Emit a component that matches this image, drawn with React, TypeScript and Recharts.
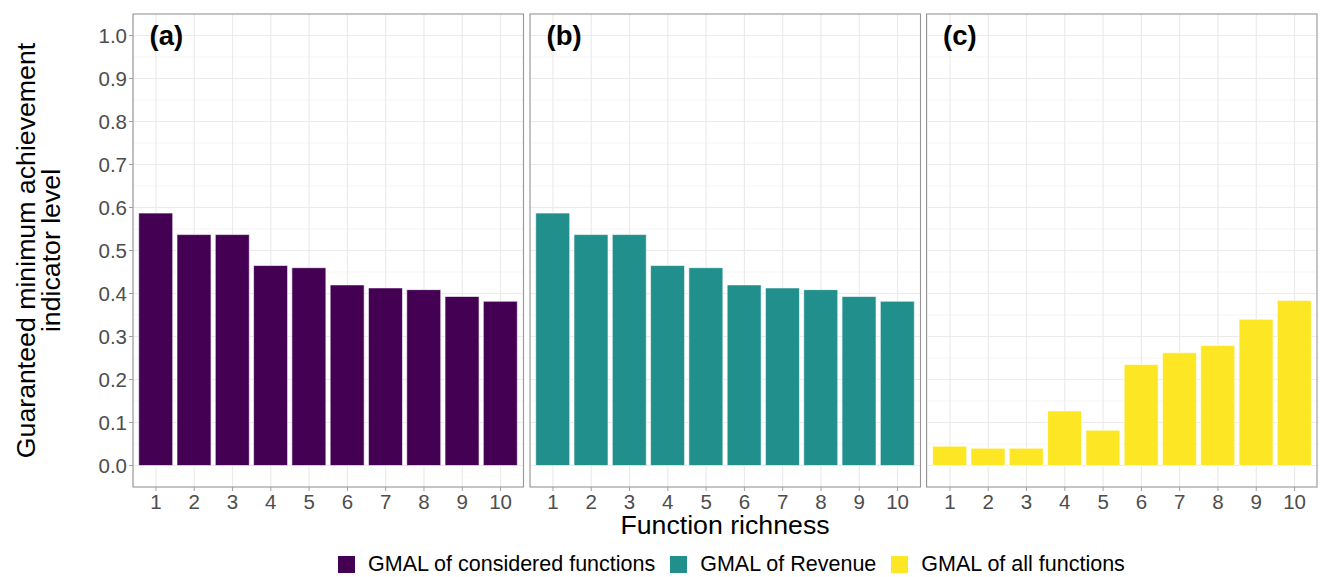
import React from 'react';
import { BarChart, Bar, XAxis, YAxis, CartesianGrid } from 'recharts';

const categories = ['1', '2', '3', '4', '5', '6', '7', '8', '9', '10'];
const consideredValues = [0.587, 0.537, 0.537, 0.465, 0.46, 0.42, 0.413, 0.409, 0.393, 0.382];
const revenueValues = [0.587, 0.537, 0.537, 0.465, 0.46, 0.42, 0.413, 0.409, 0.393, 0.382];
const allValues = [0.045, 0.04, 0.04, 0.127, 0.082, 0.235, 0.262, 0.279, 0.34, 0.384];
const yTicks = [0, 0.1, 0.2, 0.3, 0.4, 0.5, 0.6, 0.7, 0.8, 0.9, 1.0];
const yMinorTicks = [0.05, 0.15, 0.25, 0.35, 0.45, 0.55, 0.65, 0.75, 0.85, 0.95];
const seriesNames = ['GMAL of considered functions', 'GMAL of Revenue', 'GMAL of all functions'];
const seriesKeys = ['considered', 'revenue', 'all'];
const seriesColors = ['#440154', '#21908C', '#FDE725'];
const panelLabels = ['(a)', '(b)', '(c)'];
const xTitle = 'Function richness';
const yTitleLines = ['Guaranteed minimum achievement', 'indicator level'];

const rows = categories.map((c, i) => ({
  cat: c,
  considered: consideredValues[i],
  revenue: revenueValues[i],
  all: allValues[i],
}));

const FONT = '"Liberation Sans", Arial, Helvetica, sans-serif';
const PANEL_LEFTS = [133, 530, 926.5];
const PW = 390.5;
const TOP = 14;
const BOTTOM = 487;
const CH = 520;

function Panel({ idx }: { idx: number }) {
  const left = PANEL_LEFTS[idx];
  const showY = idx === 0;
  const chartLeft = showY ? 0 : left;
  const width = showY ? left + PW : PW;
  return (
    <div style={{ position: 'absolute', left: chartLeft, top: 0 }}>
      <BarChart
        width={width}
        height={CH}
        data={rows}
        margin={{ top: TOP, right: 0, bottom: 0, left: 0 }}
        barCategoryGap="5%"
      >
        <CartesianGrid
          horizontalValues={yMinorTicks}
          vertical={false}
          stroke="#f3f3f3"
          strokeWidth={0.8}
        />
        <CartesianGrid horizontalValues={yTicks} stroke="#ebebeb" strokeWidth={1.2} />
        <XAxis
          dataKey="cat"
          type="category"
          interval={0}
          padding={{ left: 3.8, right: 3.8 }}
          axisLine={false}
          tickLine={{ stroke: '#a0a0a0' }}
          tickSize={4}
          tickMargin={3}
          height={CH - BOTTOM}
          tick={{ fill: '#4d4d4d', fontSize: 20.5, fontFamily: FONT }}
        />
        <YAxis
          type="number"
          domain={[-0.05, 1.05]}
          allowDataOverflow
          ticks={yTicks}
          interval={0}
          hide={!showY}
          width={left}
          axisLine={false}
          tickLine={{ stroke: '#a0a0a0' }}
          tickSize={4}
          tickMargin={2}
          tickFormatter={(v: number) => v.toFixed(1)}
          tick={{ fill: '#4d4d4d', fontSize: 20.5, fontFamily: FONT }}
        />
        <Bar
          dataKey={seriesKeys[idx]}
          fill={seriesColors[idx]}
          stroke="#ffffff"
          strokeWidth={0.6}
          isAnimationActive={false}
        />
      </BarChart>
    </div>
  );
}

export default function App() {
  return (
    <div
      style={{
        position: 'absolute',
        left: 0,
        top: 0,
        width: 1322,
        height: 577,
        background: '#ffffff',
        fontFamily: FONT,
        overflow: 'hidden',
      }}
    >
      {[0, 1, 2].map((i) => (
        <Panel key={i} idx={i} />
      ))}
      <svg
        width={1322}
        height={577}
        style={{ position: 'absolute', left: 0, top: 0, pointerEvents: 'none' }}
      >
        {PANEL_LEFTS.map((l, i) => (
          <g key={i}>
            <rect
              x={l}
              y={TOP}
              width={PW}
              height={BOTTOM - TOP}
              fill="none"
              stroke="#969696"
              strokeWidth={1.1}
            />
            <text
              x={l + 16.5}
              y={44.5}
              fontFamily={FONT}
              fontWeight="bold"
              fontSize={27.5}
              fill="#000"
            >
              {panelLabels[i]}
            </text>
          </g>
        ))}
        <text
          x={725}
          y={534}
          textAnchor="middle"
          fontFamily={FONT}
          fontSize={26.7}
          fill="#000"
        >
          {xTitle}
        </text>
        <text
          transform={`translate(35, 250.5) rotate(-90)`}
          textAnchor="middle"
          fontFamily={FONT}
          fontSize={26.7}
          fill="#000"
        >
          {yTitleLines[0]}
        </text>
        <text
          transform={`translate(60, 250.5) rotate(-90)`}
          textAnchor="middle"
          fontFamily={FONT}
          fontSize={26.7}
          fill="#000"
        >
          {yTitleLines[1]}
        </text>
      </svg>
      <div
        style={{
          position: 'absolute',
          left: 338,
          top: 552,
          height: 25,
          display: 'flex',
          alignItems: 'center',
          whiteSpace: 'nowrap',
        }}
      >
        {seriesNames.map((n, i) => (
          <div key={n} style={{ display: 'flex', alignItems: 'center', marginRight: 15 }}>
            <div style={{ width: 17, height: 17, background: seriesColors[i], marginRight: 13 }} />
            <span style={{ fontSize: 21.5, lineHeight: '25px', color: '#000' }}>{n}</span>
          </div>
        ))}
      </div>
    </div>
  );
}
